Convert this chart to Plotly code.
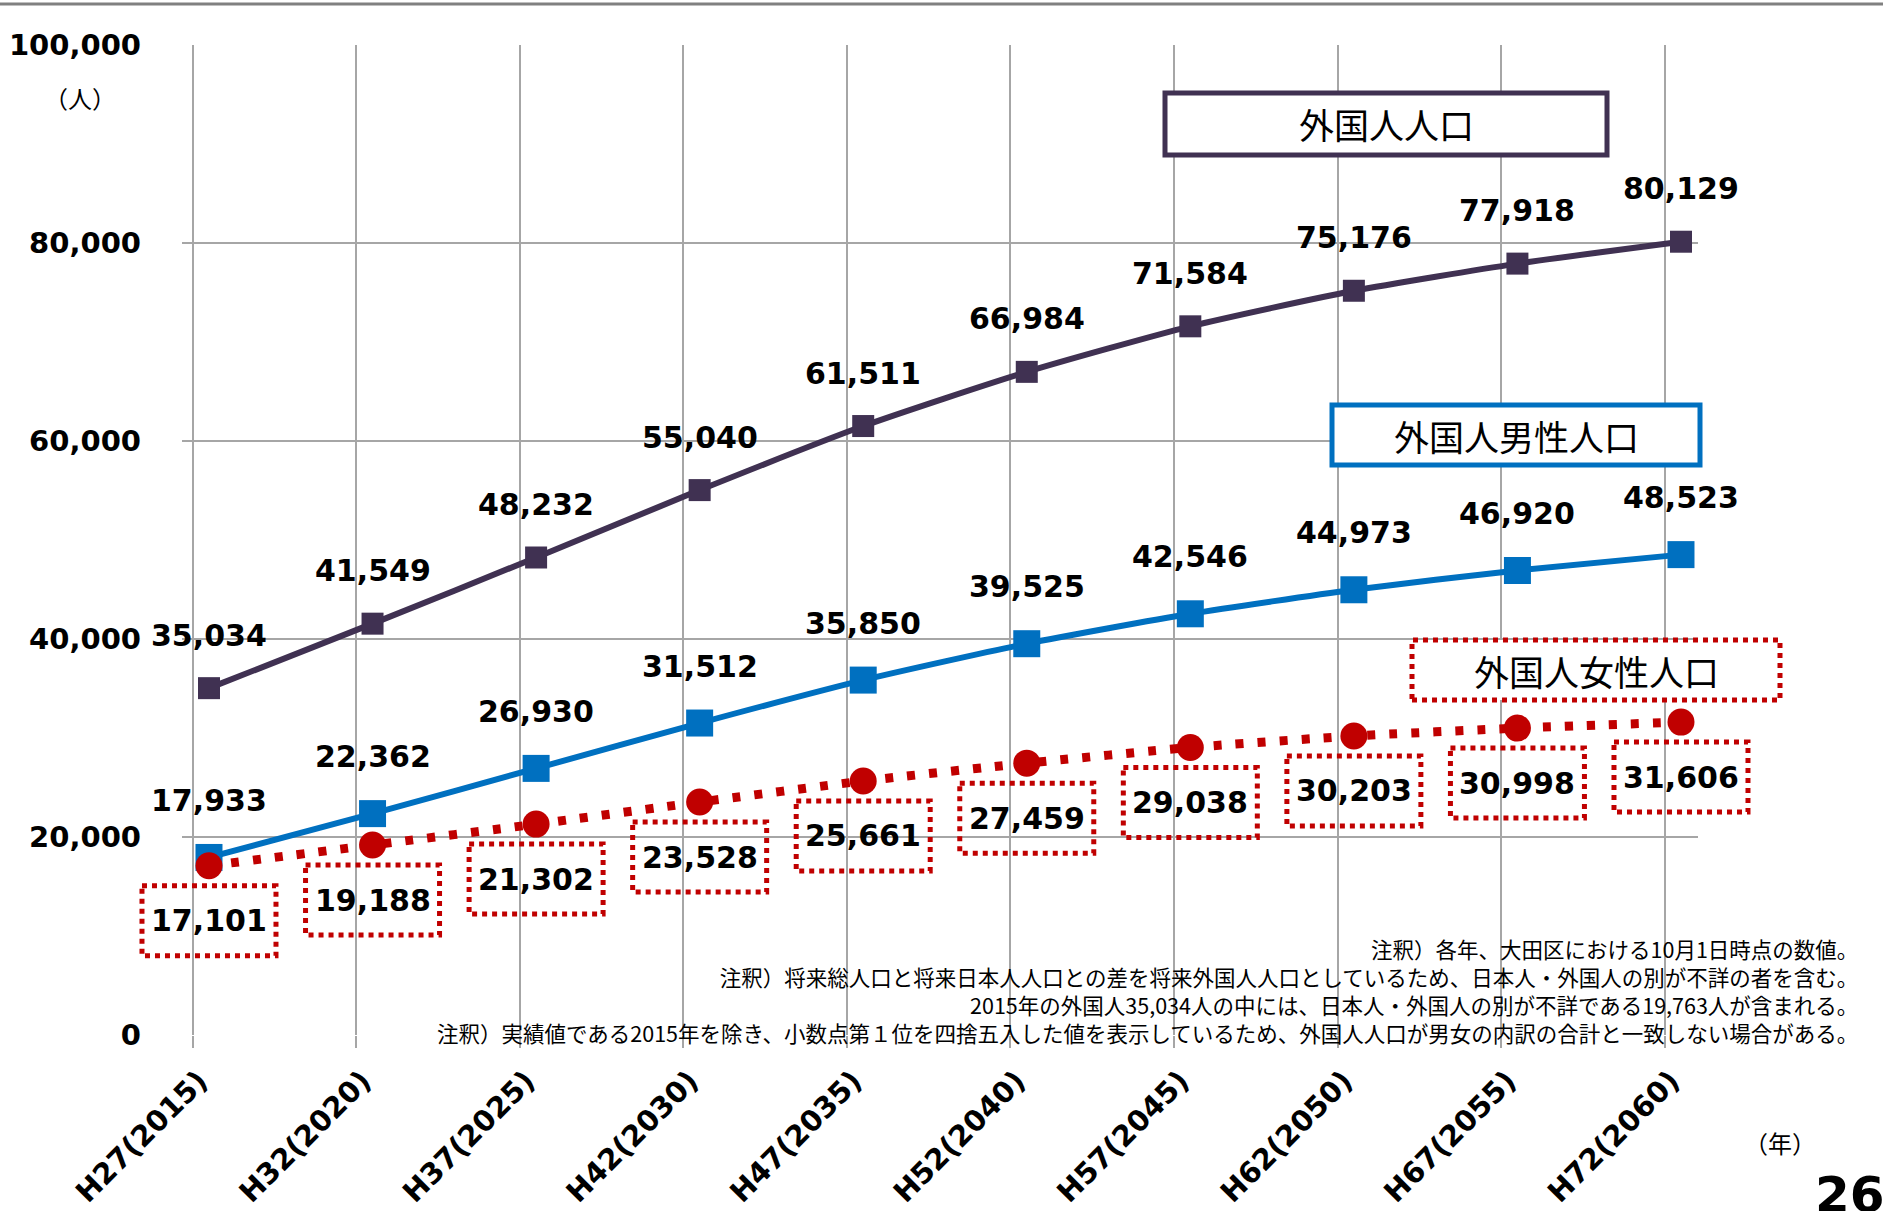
import plotly.graph_objects as go

# ---------------- data ----------------
categories = ["H27(2015)", "H32(2020)", "H37(2025)", "H42(2030)", "H47(2035)",
              "H52(2040)", "H57(2045)", "H62(2050)", "H67(2055)", "H72(2060)"]
total = [35034, 41549, 48232, 55040, 61511, 66984, 71584, 75176, 77918, 80129]
male = [17933, 22362, 26930, 31512, 35850, 39525, 42546, 44973, 46920, 48523]
female = [17101, 19188, 21302, 23528, 25661, 27459, 29038, 30203, 30998, 31606]
y_ticks = [0, 20000, 40000, 60000, 80000, 100000]
series_names = ["外国人人口", "外国人男性人口", "外国人女性人口"]
notes = [
    "注釈）各年、大田区における10月1日時点の数値。",
    "注釈）将来総人口と将来日本人人口との差を将来外国人人口としているため、日本人・外国人の別が不詳の者を含む。",
    "2015年の外国人35,034人の中には、日本人・外国人の別が不詳である19,763人が含まれる。",
    "注釈）実績値である2015年を除き、小数点第１位を四捨五入した値を表示しているため、外国人人口が男女の内訳の合計と一致しない場合がある。",
]

# ---------------- style ----------------
PURPLE = "#403152"
BLUE = "#0070C0"
RED = "#C00000"
GRID = "#A6A6A6"
NUM_FONT = "DejaVu Sans"
JP_FONT = "Noto Sans CJK JP"

W, H = 1883, 1211
L, R, T, B = 182, 1698, 45, 1035  # plot area in pixels


def px(x):
    return (x - L) / (R - L)


def py(y):
    return (B - y) / (B - T)


idx = list(range(len(categories)))
xr = [-0.165, 9.104]


def xdom(i):
    # position of a category on the x axis, as a fraction of the axis domain
    return (i - xr[0]) / (xr[1] - xr[0])


fig = go.Figure()

fig.add_trace(go.Scatter(
    x=idx, y=total, name=series_names[0], mode="lines+markers",
    line=dict(color=PURPLE, width=6, shape="spline", smoothing=0.6),
    marker=dict(symbol="square", size=22, color=PURPLE),
    showlegend=False, hoverinfo="skip"))
fig.add_trace(go.Scatter(
    x=idx, y=male, name=series_names[1], mode="lines+markers",
    line=dict(color=BLUE, width=6, shape="spline", smoothing=0.6),
    marker=dict(symbol="square", size=27, color=BLUE),
    showlegend=False, hoverinfo="skip"))
fig.add_trace(go.Scatter(
    x=idx, y=female, name=series_names[2], mode="lines+markers",
    line=dict(color=RED, width=9, dash="8px,14px", shape="spline", smoothing=0.6),
    marker=dict(symbol="circle", size=27, color=RED),
    showlegend=False, hoverinfo="skip"))
# invisible trace to host the grid axis
fig.add_trace(go.Scatter(
    x=idx, y=total, xaxis="x2", mode="markers",
    marker=dict(opacity=0), showlegend=False, hoverinfo="skip"))

annotations = []
shapes = []
lab_font = dict(family=NUM_FONT, size=30, color="#000000", weight="bold")
for i, v in zip(idx, total):
    annotations.append(dict(x=i, y=v, xref="x", yref="y", text=f"{v:,}",
                            showarrow=False, yshift=53, font=lab_font))
for i, v in zip(idx, male):
    annotations.append(dict(x=i, y=v, xref="x", yref="y", text=f"{v:,}",
                            showarrow=False, yshift=57, font=lab_font))
for i, v in zip(idx, female):
    annotations.append(dict(x=i, y=v, xref="x", yref="y", text=f"{v:,}",
                            showarrow=False, yshift=-55, font=lab_font))
    shapes.append(dict(type="rect", xref="x domain", yref="y",
                       xsizemode="pixel", ysizemode="pixel",
                       xanchor=xdom(i), yanchor=v, x0=-67, x1=67, y0=-20, y1=-90,
                       line=dict(color=RED, width=5, dash="dot"),
                       fillcolor="rgba(0,0,0,0)", layer="above"))

# series title boxes
boxes = [
    (series_names[0], 1165, 1607, 93, 155, PURPLE, "solid"),
    (series_names[1], 1332, 1700, 405, 465, BLUE, "solid"),
    (series_names[2], 1412, 1780, 640, 700, RED, "dot"),
]
for name, x0, x1, y0, y1, col, dash in boxes:
    shapes.append(dict(type="rect", xref="paper", yref="paper",
                       x0=px(x0), x1=px(x1), y0=py(y1), y1=py(y0),
                       line=dict(color=col, width=5, dash=dash),
                       fillcolor="white", layer="above"))
    annotations.append(dict(x=px((x0 + x1) / 2), y=py((y0 + y1) / 2),
                            xref="paper", yref="paper", text=name, showarrow=False,
                            xanchor="center", yanchor="middle",
                            font=dict(family=JP_FONT, size=35, color="#000000")))

# top rule
shapes.append(dict(type="line", xref="paper", yref="paper",
                   x0=px(0), x1=px(W), y0=py(4), y1=py(4),
                   line=dict(color="#808080", width=3)))

# notes (one block, right aligned)
annotations.append(dict(x=px(1860), y=py(990), xref="paper", yref="paper",
                        text="<br>".join(notes), showarrow=False,
                        xanchor="right", yanchor="middle", align="right",
                        font=dict(family=JP_FONT, size=21.5, color="#000000")))

# unit labels
annotations.append(dict(x=px(80), y=py(97), xref="paper", yref="paper", text="（人）",
                        showarrow=False, xanchor="center", yanchor="middle",
                        font=dict(family=JP_FONT, size=24, color="#000000")))
annotations.append(dict(x=px(1780), y=py(1142), xref="paper", yref="paper", text="（年）",
                        showarrow=False, xanchor="center", yanchor="middle",
                        font=dict(family=JP_FONT, size=24, color="#000000")))
annotations.append(dict(x=px(1850), y=py(1195), xref="paper", yref="paper", text="26",
                        showarrow=False, xanchor="center", yanchor="middle",
                        font=dict(family=NUM_FONT, size=50, color="#000000", weight="bold")))

fig.update_layout(
    width=W, height=H,
    margin=dict(l=L, r=W - R, t=T, b=H - B, pad=0),
    paper_bgcolor="white", plot_bgcolor="white",
    showlegend=False,
    xaxis=dict(range=xr, tickmode="array", tickvals=[i - 0.06 for i in idx],
               ticktext=categories, automargin=False,
               tickangle=-45, showgrid=False, zeroline=False, ticks="",
               showline=False, ticklabelstandoff=22,
               tickfont=dict(family=NUM_FONT, size=29, color="#000000", weight="bold")),
    xaxis2=dict(range=xr, overlaying="x", anchor="y", side="bottom",
                tickmode="array", tickvals=[i - 0.1 for i in idx], automargin=False,
                showgrid=True, gridcolor=GRID, gridwidth=1.5, zeroline=False,
                ticks="outside", ticklen=12, tickcolor=GRID, tickwidth=1.5,
                showticklabels=False, showline=False),
    yaxis=dict(range=[0, 100000], tickmode="array", tickvals=y_ticks,
               ticktext=[f"{v:,}" for v in y_ticks], automargin=False,
               showgrid=True, gridcolor=GRID, gridwidth=1.5, zeroline=False,
               ticks="", showline=False, ticklabelstandoff=40,
               tickfont=dict(family=NUM_FONT, size=29, color="#000000", weight="bold")),
    annotations=annotations,
    shapes=shapes,
)

fig.write_html("out.html",
               config={"displayModeBar": False},
               post_script="document.body.style.margin='0px';document.body.style.overflow='hidden';")
